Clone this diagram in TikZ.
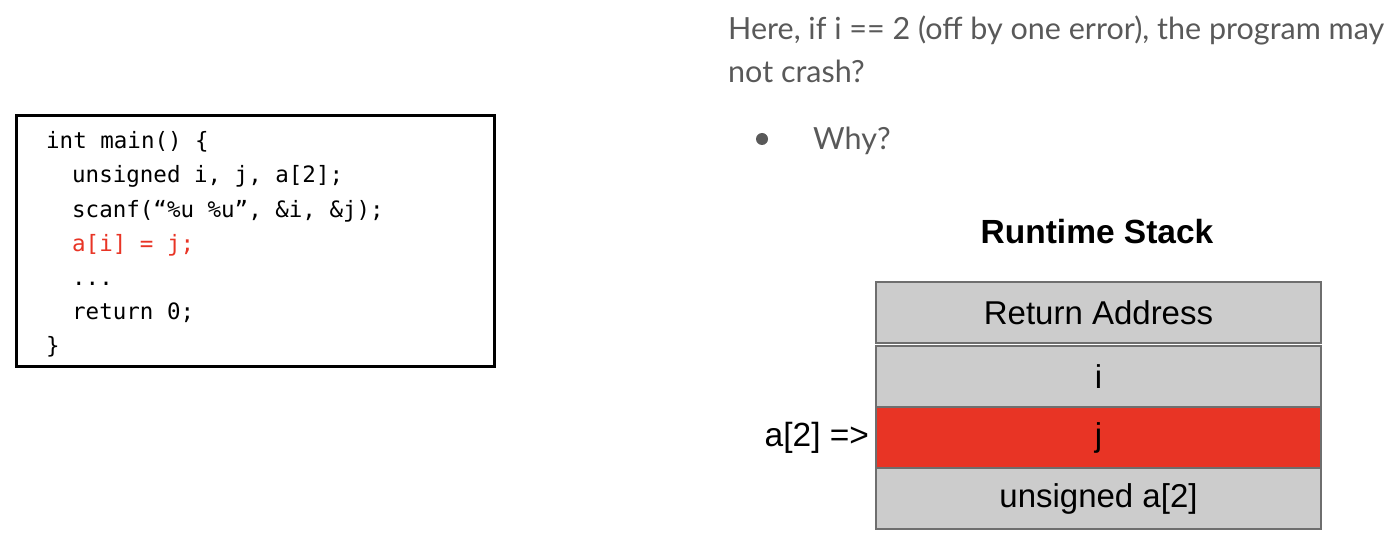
\documentclass[tikz,border=0pt]{standalone}
\usepackage{fontspec}
\setmainfont{Lato}
\newfontfamily\codefont{DejaVu Sans Mono}
\newfontfamily\arialfont{Liberation Sans}
\usetikzlibrary{positioning}
\definecolor{slidegray}{HTML}{595959}
\definecolor{cellgray}{HTML}{CCCCCC}
\definecolor{celledge}{HTML}{6E6E6E}
\definecolor{hotred}{HTML}{E83425}
\tikzset{
	cell/.style={draw=celledge, line width=1.5pt, fill=cellgray, minimum width=445pt, minimum height=61pt, inner sep=0pt, font={\arialfont\fontsize{33}{38}\selectfont}},
	codeline/.style={anchor=base west, inner sep=0pt, font={\codefont\fontsize{22.5}{34}\selectfont}},
	slidetext/.style={anchor=base west, inner sep=0pt, text=slidegray, font=\fontsize{30.5}{43}\selectfont}
}
\begin{document}
\begin{tikzpicture}[x=1pt,y=1pt]
		\useasboundingbox (0,0) rectangle (1400,550);
		
		% code box
		\draw[line width=3pt] (16,184) rectangle (494,434);
		\node[codeline] (c1) at (46,401) {int main() \{};
		\node[codeline] (c2) at (72,367) {unsigned i, j, a[2];};
		\node[codeline] (c3) at (72,333) {scanf(“\%u \%u”, \&i, \&j);};
		\node[codeline, text=hotred] (c4) at (72,299) {a[i] = j;};
		\node[codeline] (c5) at (72,265) {...};
		\node[codeline] (c6) at (72,231) {return 0;};
		\node[codeline] (c7) at (46,197) {\}};
		
		% question
		\node[slidetext] (q1) at (728,510) {Here, if i == 2 (off by one error), the program may};
		\node[slidetext] (q2) at (728,467) {not crash?};
		\fill[slidegray] (762,411) circle (6);
		\node[slidetext] (why) at (813,400) {Why?};
		
		% stack
		\node[inner sep=0pt, font={\arialfont\bfseries\fontsize{33.5}{38}\selectfont}] (title) at (1097,318) {Runtime Stack};
		\node[cell] (ret) at (1098.5,237.5) {Return Address};
		\node[cell] (vi) at (1098.5,173.5) {i};
		\node[cell, fill=hotred] (vj) at (1098.5,112.5) {j};
		\node[cell] (arr) at (1098.5,51.5) {unsigned a[2]};
		\node[left=6pt of vj, inner sep=0pt, font={\arialfont\fontsize{33.5}{38}\selectfont}] (ptr) {a[2] =>};
\end{tikzpicture}
\end{document}
